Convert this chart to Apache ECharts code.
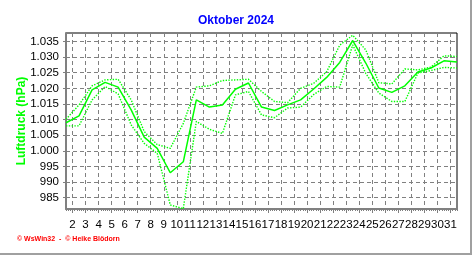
<!DOCTYPE html>
<html>
<head>
<meta charset="utf-8">
<script src="https://cdn.jsdelivr.net/npm/echarts@6/dist/echarts.min.js"></script>
<style>
html,body{margin:0;padding:0;background:#fff;}
#c{width:472px;height:255px;}
</style>
</head>
<body>
<div id="c"></div>
<script>
const title = 'Oktober 2024';
const yName = 'Luftdruck (hPa)';
const footer = '\u00a9 WsWin32  -  \u00a9 Heike Bl\u00f6dorn';
const days = [1,2,3,4,5,6,7,8,9,10,11,12,13,14,15,16,17,18,19,20,21,22,23,24,25,26,27,28,29,30,31];
const meanP = [1009.0,1011.2,1019.5,1021.9,1020.4,1013.1,1004.4,1000.8,993.0,996.5,1016.3,1014.0,1014.7,1019.7,1021.7,1014.0,1012.9,1014.7,1016.3,1019.8,1023.5,1028.3,1035.3,1028.1,1020.1,1018.7,1020.8,1025.2,1026.5,1028.8,1028.4];
const maxP = [1010.1,1014.7,1020.8,1022.7,1022.9,1016.3,1006.2,1002.0,1000.8,1008.8,1020.4,1020.8,1022.5,1022.7,1022.9,1019.0,1015.8,1015.4,1020.0,1021.6,1025.3,1033.8,1037.0,1032.3,1021.8,1021.4,1026.2,1025.9,1026.8,1030.4,1030.2];
const minP = [1008.0,1008.0,1016.3,1020.6,1018.2,1008.3,1002.4,999.2,982.7,981.5,1009.4,1006.9,1005.6,1017.9,1019.0,1011.5,1010.6,1013.7,1014.0,1018.0,1020.6,1020.4,1033.9,1024.8,1018.5,1015.8,1015.8,1024.9,1025.7,1026.7,1026.5];
const xTickLabels = [2,3,4,5,6,7,8,9,10,11,12,13,14,15,16,17,18,19,20,21,22,23,24,25,26,27,28,29,30,31];
const yTickLabels = [985,990,995,1000,1005,1010,1015,1020,1025,1030,1035];

// a day's value is drawn in the middle of that day (between its gridlines)
const pts = arr => days.map((d, i) => [d + 0.5, arr[i]]);
// 4-hour minor ticks along the time axis
const hourTicks = [];
for (let k = 9; k <= 189; k++) hourTicks.push(k / 6);
const fmtY = v => v >= 1000 ? '1.' + String(v).slice(1) : String(v);

const chart = echarts.init(document.getElementById('c'), null, {renderer: 'canvas'});
const green = '#00ff00';
const font = 'Liberation Sans';
chart.setOption({
  animation: false,
  title: {
    text: title, left: 'center', top: 10,
    textStyle: {color: '#0000ff', fontSize: 12, fontWeight: 'bold', fontFamily: font}
  },
  grid: {left: 66, right: 15, top: 33, bottom: 46, show: true, borderColor: '#000', borderWidth: 1, backgroundColor: 'transparent'},
  xAxis: [{
    type: 'value', min: 1.5, max: 31.5,
    axisLine: {lineStyle: {color: '#808080', width: 2}},
    axisTick: {show: true, length: 4, customValues: xTickLabels, lineStyle: {color: '#808080'}},
    axisLabel: {customValues: xTickLabels, formatter: v => String(v), color: '#000', fontSize: 11.5, fontFamily: font, margin: 10, showMinLabel: true, showMaxLabel: true, hideOverlap: false},
    splitLine: {show: true, lineStyle: {color: '#808080', type: [4, 3], width: 1}}
  }, {
    type: 'value', min: 1.5, max: 31.5, position: 'bottom',
    axisLine: {show: false},
    axisTick: {show: true, length: 2, customValues: hourTicks, lineStyle: {color: '#808080'}},
    axisLabel: {show: false},
    splitLine: {show: false}
  }],
  yAxis: {
    type: 'value', min: 981.4, max: 1037.7,
    name: yName, nameLocation: 'middle', nameGap: 38, nameRotate: 90, nameMoveOverlap: false,
    nameTextStyle: {color: green, fontWeight: 'bold', fontSize: 12, fontFamily: font},
    axisLine: {show: true, lineStyle: {color: '#808080', width: 2}},
    axisTick: {show: true, length: 3, customValues: yTickLabels, lineStyle: {color: '#808080'}},
    axisLabel: {customValues: yTickLabels, formatter: fmtY, color: '#000', fontSize: 11.5, fontFamily: font, margin: 7},
    splitLine: {show: true, lineStyle: {color: '#808080', type: [4, 3], width: 1}}
  },
  series: [
    {type: 'line', data: pts(maxP), symbol: 'none', lineStyle: {color: green, width: 1.4, type: [1.4, 1.4]}},
    {type: 'line', data: pts(minP), symbol: 'none', lineStyle: {color: green, width: 1.4, type: [1.4, 1.4]}},
    {type: 'line', data: pts(meanP), symbol: 'none', lineStyle: {color: green, width: 1.5}}
  ],
  graphic: [
    {type: 'text', left: 17, top: 236, style: {text: footer, fill: '#ff0000', font: 'bold 7px "Liberation Sans"'}},
    {type: 'rect', shape: {x: 470, y: 0, width: 2, height: 255}, style: {fill: '#a0a0a0'}},
    {type: 'rect', shape: {x: 0, y: 253, width: 472, height: 2}, style: {fill: '#a0a0a0'}}
  ]
});
</script>
</body>
</html>
